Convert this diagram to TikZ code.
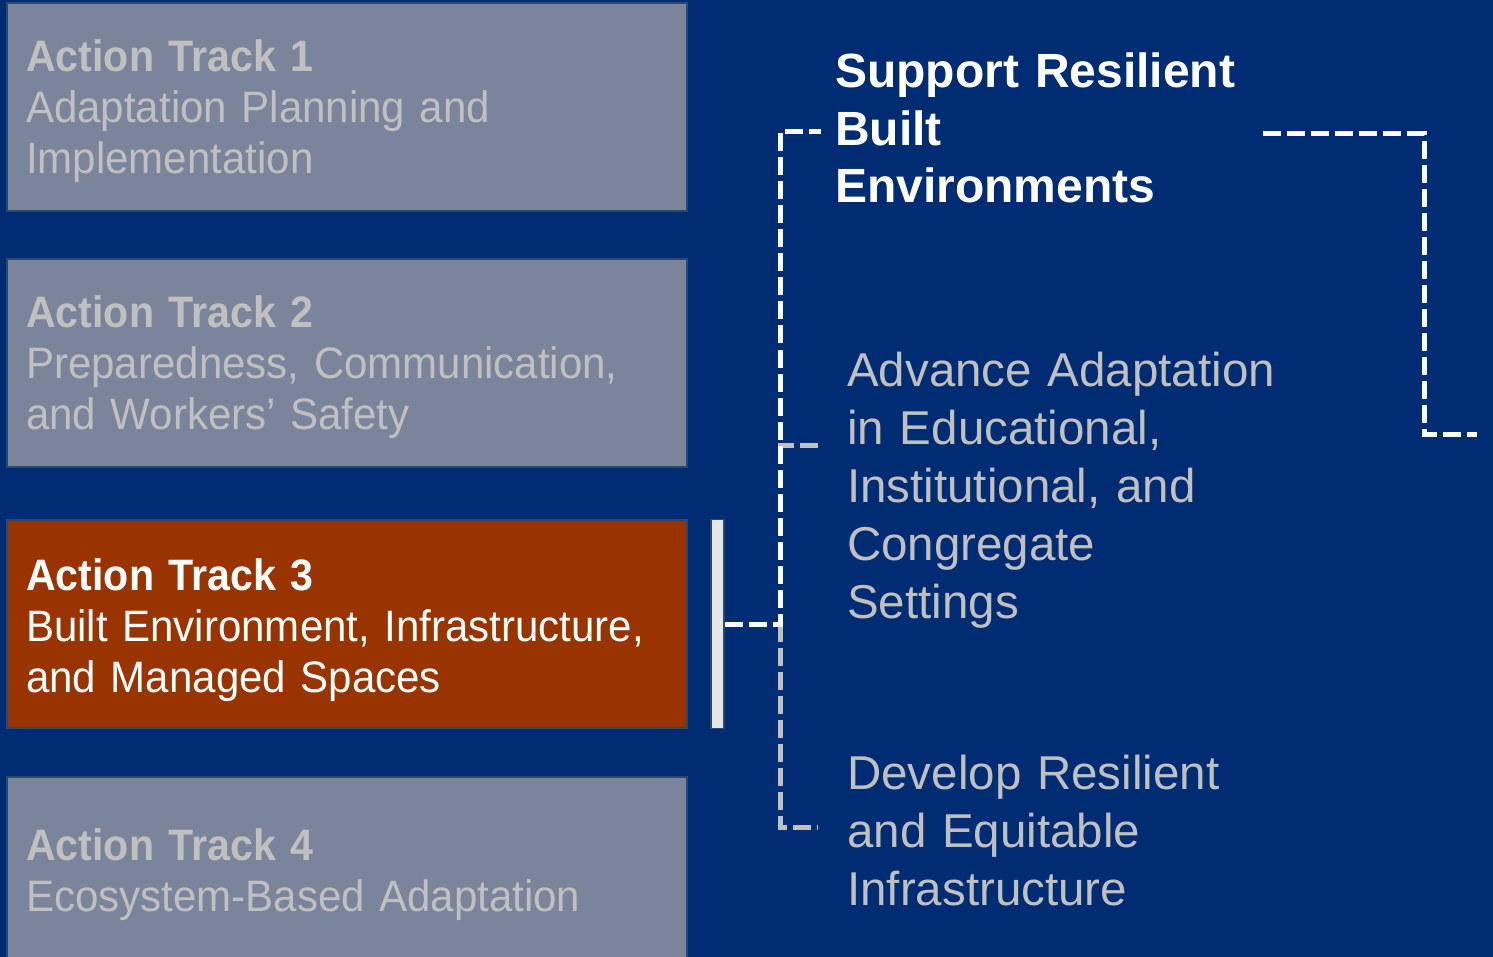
\documentclass[tikz,border=0pt]{standalone}
\usepackage{fontspec}
\setmainfont{Liberation Sans}
\newfontfamily\trackfont[FakeStretch=0.955,BoldFeatures={FakeStretch=0.935}]{Liberation Sans}
\definecolor{bg}{HTML}{002C73}
\definecolor{boxgray}{HTML}{7A859B}
\definecolor{txtgray}{HTML}{C0C0C0}
\definecolor{rust}{HTML}{993300}
\definecolor{edge}{HTML}{2D4868}
\definecolor{barfill}{HTML}{E6E6E6}
\begin{document}
\begin{tikzpicture}[x=1pt,y=-1pt,
  trackbox/.style={draw=edge, line width=2pt, fill=boxgray, minimum width=680pt, minimum height=208pt, anchor=north west, inner sep=0pt},
  tracktext/.style={anchor=base west, inner sep=0pt, text width=660pt, align=left, text=txtgray, font=\trackfont\fontsize{44}{51}\selectfont},
  bigtext/.style={anchor=base west, inner sep=0pt, text width=560pt, align=left, text=txtgray, font=\fontsize{47.5}{58}\selectfont},
  wline/.style={draw=white, line width=5pt, dash pattern=on 18pt off 6pt},
  gline/.style={draw=txtgray, line width=5pt, dash pattern=on 18pt off 6pt}
]
\clip (0,0) rectangle (1493,957);
\fill[bg] (0,0) rectangle (1493,957);

% track boxes
\node[trackbox] (b1) at (6,2) {};
\node[trackbox] (b2) at (6,258) {};
\node[trackbox, fill=rust] (b3) at (6,519) {};
\node[trackbox, minimum height=240pt] (b4) at (6,776) {};

\node[tracktext] (t1) at (26,72) {{\bfseries Action Track 1}\\Adaptation Planning and\\Implementation};
\node[tracktext] (t2) at (26,328) {{\bfseries Action Track 2}\\Preparedness, Communication,\\and Workers’ Safety};
\node[tracktext, text=white] (t3) at (26,590) {{\bfseries Action Track 3}\\Built Environment, Infrastructure,\\and Managed Spaces};
\node[tracktext] (t4) at (26,860) {{\bfseries Action Track 4}\\Ecosystem-Based Adaptation};

% bar
\node[draw=edge, line width=1.5pt, fill=barfill, minimum width=13pt, minimum height=209pt, anchor=north west, inner sep=0pt] (bar) at (710,518.5) {};

% right texts
\node[anchor=base west, inner sep=0pt, text width=500pt, align=left, text=white, font=\bfseries\fontsize{48}{57.5}\selectfont] (sup) at (835,88) {Support Resilient\\Built\\Environments};
\node[bigtext] (adv) at (847,386) {Advance Adaptation\\in Educational,\\Institutional, and\\Congregate\\Settings};
\node[bigtext] (dev) at (847,789) {Develop Resilient\\and Equitable\\Infrastructure};

% connectors
\coordinate (jn) at (780,624);
\coordinate (e1) at (821,132);
\coordinate (e2) at (818,445);
\coordinate (e3) at (818,827);
\coordinate (r1) at (1263,134);
\coordinate (r2) at (1477,434);

\draw[gline] (e2) -- (777.5,445);
\draw[gline] (jn) |- (e3);
\draw[wline] (bar.east |- jn) -- (jn) |- (e1);
\draw[wline] (r1) -- (1424,134) |- (r2);
\end{tikzpicture}
\end{document}
